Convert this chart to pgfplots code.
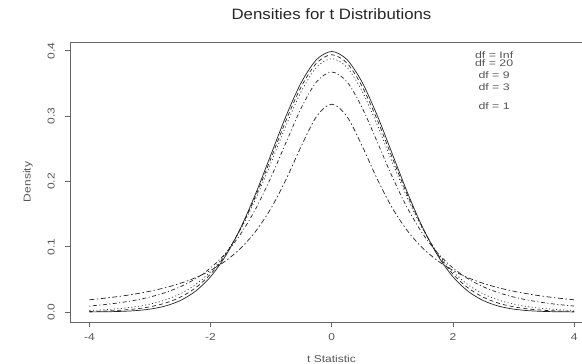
\documentclass[border=0pt]{standalone}
\usepackage{pgfplots}
\pgfplotsset{compat=1.18}
\usepackage{fontspec}
\setmainfont{Liberation Sans}
\newfontfamily\titlefont[FakeStretch=1.12]{Liberation Sans}
\newfontfamily\labfont[FakeStretch=1.2]{Liberation Sans}
\newfontfamily\legfont[FakeStretch=1.3]{Liberation Sans}
\definecolor{axgray}{HTML}{666666}
\definecolor{txtgray}{HTML}{555555}
\definecolor{curve}{HTML}{222222}
\begin{document}
\begin{tikzpicture}
\path[use as bounding box] (0pt,0pt) rectangle (582pt,364pt);
\begin{axis}[
  at={(70pt,42pt)}, anchor=south west,
  scale only axis, width=512pt, height=280pt,
  xmin=-4.32, xmax=4.13, ymin=-0.0153, ymax=0.4135,
  axis x line*=box, axis y line*=left,
  axis line style={axgray, line width=0.9pt},
  xtick={-4,-2,0,2,4}, xticklabels={-4,-2,0,2,4},
  ytick={0,0.1,0.2,0.3,0.4}, yticklabels={0.0,0.1,0.2,0.3,0.4},
  xtick pos=bottom, ytick pos=left,
  tick align=outside, major tick length=5pt,
  tick style={axgray, line width=0.8pt},
  xticklabel style={font=\labfont\fontsize{10}{12}\selectfont, text=txtgray},
  yticklabel style={font=\labfont\fontsize{10}{12}\selectfont, text=txtgray, rotate=90, anchor=south, inner sep=0pt},
  yticklabel shift=10pt,
  xticklabel shift=3pt,
]
\addplot[curve, line width=0.7pt, smooth] coordinates {
(-4,0.000134)(-3.75,0.000353)(-3.5,0.000873)(-3.25,0.002029)(-3,0.004432)(-2.75,0.009094)(-2.5,0.017528)(-2.25,0.031739)(-2,0.053991)(-1.75,0.086277)(-1.5,0.129518)(-1.25,0.182649)(-1,0.241971)(-0.75,0.301137)(-0.5,0.352065)(-0.25,0.386668)(0,0.398942)(0.25,0.386668)(0.5,0.352065)(0.75,0.301137)(1,0.241971)(1.25,0.182649)(1.5,0.129518)(1.75,0.086277)(2,0.053991)(2.25,0.031739)(2.5,0.017528)(2.75,0.009094)(3,0.004432)(3.25,0.002029)(3.5,0.000873)(3.75,0.000353)(4,0.000134)};
\addplot[curve, line width=0.7pt, smooth, dash pattern=on 4pt off 3pt] coordinates {
(-4,0.000822)(-3.75,0.001470)(-3.5,0.002611)(-3.25,0.004590)(-3,0.007964)(-2.75,0.013582)(-2.5,0.022670)(-2.25,0.036858)(-2,0.058087)(-1.75,0.088266)(-1.5,0.128628)(-1.25,0.178832)(-1,0.236046)(-0.75,0.294438)(-0.5,0.345811)(-0.25,0.381292)(0,0.393990)(0.25,0.381292)(0.5,0.345811)(0.75,0.294438)(1,0.236046)(1.25,0.178832)(1.5,0.128628)(1.75,0.088266)(2,0.058087)(2.25,0.036858)(2.5,0.022670)(2.75,0.013582)(3,0.007964)(3.25,0.004590)(3.5,0.002611)(3.75,0.001470)(4,0.000822)};
\addplot[curve, line width=0.7pt, smooth, dash pattern=on 1pt off 2.5pt] coordinates {
(-4,0.002347)(-3.75,0.003513)(-3.5,0.005289)(-3.25,0.007999)(-3,0.012126)(-2.75,0.018384)(-2.5,0.027780)(-2.25,0.041665)(-2,0.061713)(-1.75,0.089724)(-1.5,0.127152)(-1.25,0.174281)(-1,0.229131)(-0.75,0.286568)(-0.5,0.338357)(-0.25,0.374838)(0,0.388035)(0.25,0.374838)(0.5,0.338357)(0.75,0.286568)(1,0.229131)(1.25,0.174281)(1.5,0.127152)(1.75,0.089724)(2,0.061713)(2.25,0.041665)(2.5,0.027780)(2.75,0.018384)(3,0.012126)(3.25,0.007999)(3.5,0.005289)(3.75,0.003513)(4,0.002347)};
\addplot[curve, line width=0.7pt, smooth, dash pattern=on 1pt off 2.5pt on 4pt off 2.5pt] coordinates {
(-4,0.009163)(-3.75,0.011363)(-3.5,0.014224)(-3.25,0.017984)(-3,0.022972)(-2.75,0.029650)(-2.5,0.038662)(-2.25,0.050889)(-2,0.067510)(-1.75,0.090004)(-1.5,0.120017)(-1.25,0.158913)(-1,0.206748)(-0.75,0.260646)(-0.5,0.313183)(-0.25,0.352705)(0,0.367553)(0.25,0.352705)(0.5,0.313183)(0.75,0.260646)(1,0.206748)(1.25,0.158913)(1.5,0.120017)(1.75,0.090004)(2,0.067510)(2.25,0.050889)(2.5,0.038662)(2.75,0.029650)(3,0.022972)(3.25,0.017984)(3.5,0.014224)(3.75,0.011363)(4,0.009163)};
\addplot[curve, line width=0.7pt, smooth, dash pattern=on 5pt off 2.5pt on 1.5pt off 2.5pt] coordinates {
(-4,0.018724)(-3.75,0.021132)(-3.5,0.024023)(-3.25,0.027530)(-3,0.031831)(-2.75,0.037175)(-2.5,0.043905)(-2.25,0.052505)(-2,0.063662)(-1.75,0.078353)(-1.5,0.097942)(-1.25,0.124218)(-1,0.159155)(-0.75,0.203718)(-0.5,0.254648)(-0.25,0.299586)(0,0.318310)(0.25,0.299586)(0.5,0.254648)(0.75,0.203718)(1,0.159155)(1.25,0.124218)(1.5,0.097942)(1.75,0.078353)(2,0.063662)(2.25,0.052505)(2.5,0.043905)(2.75,0.037175)(3,0.031831)(3.25,0.027530)(3.5,0.024023)(3.75,0.021132)(4,0.018724)};
\begin{scope}[every node/.style={font=\legfont\fontsize{9.5}{10}\selectfont, text=txtgray, inner sep=0pt}]
\node at (axis cs:2.68,0.3938) {df = Inf};
\node at (axis cs:2.68,0.3815) {df = 20};
\node at (axis cs:2.68,0.3623) {df = 9};
\node at (axis cs:2.68,0.3446) {df = 3};
\node at (axis cs:2.68,0.3155) {df = 1};
\end{scope}
\end{axis}
\node[font=\titlefont\fontsize{15}{17}\selectfont, text=black!85] at (331.5pt,350pt) {Densities for t Distributions};
\node[font=\labfont\fontsize{10}{12}\selectfont, text=txtgray] at (331.5pt,5.5pt) {t Statistic};
\node[font=\labfont\fontsize{10}{12}\selectfont, text=txtgray, rotate=90] at (28pt,182pt) {Density};
\end{tikzpicture}
\end{document}
